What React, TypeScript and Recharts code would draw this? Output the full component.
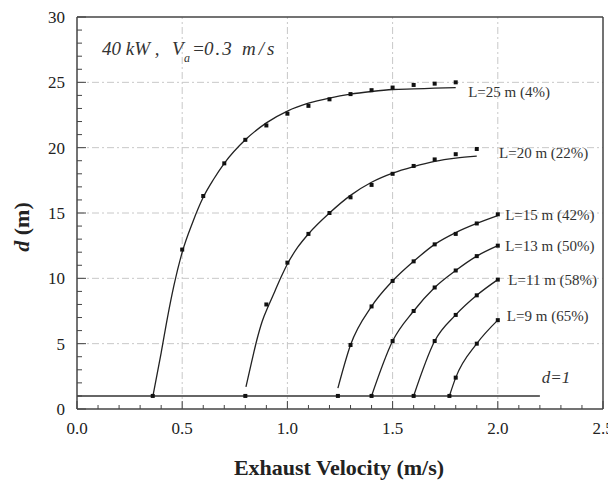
import React from 'react';
import { ComposedChart, Line, Scatter, XAxis, YAxis, ReferenceLine } from 'recharts';

// ---- axes ----
const xTicks = [0, 0.1, 0.2, 0.3, 0.4, 0.5, 0.6, 0.7, 0.8, 0.9, 1.0, 1.1, 1.2, 1.3, 1.4, 1.5, 1.6, 1.7, 1.8, 1.9, 2.0, 2.1, 2.2, 2.3, 2.4, 2.5];
const xMajor = [0, 0.5, 1.0, 1.5, 2.0, 2.5];
const yTicks = [0, 1, 2, 3, 4, 5, 6, 7, 8, 9, 10, 11, 12, 13, 14, 15, 16, 17, 18, 19, 20, 21, 22, 23, 24, 25, 26, 27, 28, 29, 30];
const yMajor = [0, 5, 10, 15, 20, 25, 30];
const xGrid = [0.5, 1.0, 1.5, 2.0];
const yGrid = [5, 10, 15, 20, 25];

// ---- measured points (x: exhaust velocity m/s, y: d m) ----
const l25Points: [number, number][] = [[0.36, 1.0], [0.5, 12.2], [0.6, 16.3], [0.7, 18.8], [0.8, 20.6], [0.9, 21.7], [1.0, 22.6], [1.1, 23.2], [1.2, 23.7], [1.3, 24.1], [1.4, 24.4], [1.5, 24.6], [1.6, 24.8], [1.7, 24.9], [1.8, 25.0]];
const l20Points: [number, number][] = [[0.8, 1.0], [0.9, 8.0], [1.0, 11.2], [1.1, 13.4], [1.2, 15.0], [1.3, 16.2], [1.4, 17.15], [1.5, 18.0], [1.6, 18.6], [1.7, 19.1], [1.8, 19.5], [1.9, 19.9]];
const l15Points: [number, number][] = [[1.24, 1.0], [1.3, 4.9], [1.4, 7.85], [1.5, 9.8], [1.6, 11.3], [1.7, 12.6], [1.8, 13.4], [1.9, 14.2], [2.0, 14.9]];
const l13Points: [number, number][] = [[1.4, 1.0], [1.5, 5.2], [1.6, 7.5], [1.7, 9.3], [1.8, 10.6], [1.9, 11.7], [2.0, 12.5]];
const l11Points: [number, number][] = [[1.6, 1.0], [1.7, 5.2], [1.8, 7.2], [1.9, 8.7], [2.0, 9.9]];
const l9Points: [number, number][] = [[1.77, 1.0], [1.8, 2.4], [1.9, 5.0], [2.0, 6.8]];

// ---- fitted curves ----
const l25Fit: [number, number][] = [[0.361, 1.0], [0.4, 4.3], [0.43, 7.0], [0.46, 9.4], [0.5, 12.0], [0.55, 14.3], [0.6, 16.2], [0.65, 17.6], [0.7, 18.8], [0.8, 20.6], [0.9, 21.9], [1.0, 22.8], [1.1, 23.4], [1.2, 23.8], [1.3, 24.1], [1.4, 24.3], [1.5, 24.45], [1.6, 24.5], [1.7, 24.55], [1.8, 24.6]];
const l20Fit: [number, number][] = [[0.803, 1.7], [0.83, 3.6], [0.855, 5.3], [0.88, 6.7], [0.91, 7.9], [0.94, 9.0], [0.97, 10.1], [1.0, 11.1], [1.05, 12.4], [1.1, 13.4], [1.2, 15.0], [1.3, 16.35], [1.4, 17.35], [1.5, 18.05], [1.6, 18.55], [1.7, 18.95], [1.8, 19.2], [1.9, 19.35]];
const l15Fit: [number, number][] = [[1.24, 1.6], [1.3, 4.9], [1.4, 7.85], [1.5, 9.8], [1.6, 11.3], [1.7, 12.6], [1.8, 13.5], [1.9, 14.2], [2.0, 14.8]];
const l13Fit: [number, number][] = [[1.4, 1.0], [1.5, 5.2], [1.6, 7.5], [1.7, 9.3], [1.8, 10.6], [1.9, 11.7], [2.0, 12.5]];
const l11Fit: [number, number][] = [[1.6, 1.0], [1.7, 5.2], [1.8, 7.2], [1.9, 8.7], [2.0, 9.9]];
const l9Fit: [number, number][] = [[1.77, 1.0], [1.8, 2.4], [1.9, 5.0], [2.0, 6.8]];
const dLine: [number, number][] = [[0, 1], [2.2, 1]];

// ---- curve labels ----
const labelTexts = ['L=25 m (4%)', 'L=20 m (22%)', 'L=15 m (42%)', 'L=13 m (50%)', 'L=11 m (58%)', 'L=9 m (65%)'];
const labelX = [1.859, 2.006, 2.035, 2.035, 2.05, 2.043];
const labelY = [24.28, 19.61, 14.85, 12.5, 9.87, 7.12];
const dLabel = { x: 2.209, y: 2.47, text: 'd=1' };
const headAnchor = { x: 0.119, y: 27.55 };

const toObj = (arr: [number, number][]) => arr.map(([x, y]) => ({ x, y }));

const FONT = '"Liberation Serif", "Times New Roman", serif';
const AXIS = '#444';
const INK = '#222';

const XTick = (props: any) => {
  const { x, y, payload } = props;
  const v = payload.value as number;
  const major = xMajor.some((m) => Math.abs(m - v) < 1e-6);
  return (
    <g>
      <line x1={x} y1={y} x2={x} y2={y - (major ? 8 : 4)} stroke={AXIS} strokeWidth={1} />
      {major && (
        <text x={x} y={y + 25} textAnchor="middle" fontFamily={FONT} fontSize={17} fill={INK}>
          {v.toFixed(1)}
        </text>
      )}
    </g>
  );
};

const YTick = (props: any) => {
  const { x, y, payload } = props;
  const v = payload.value as number;
  const major = yMajor.includes(v);
  return (
    <g>
      <line x1={x} y1={y} x2={x + (major ? 9 : 5)} y2={y} stroke={AXIS} strokeWidth={1} />
      {major && (
        <text x={x - 12} y={y + 6} textAnchor="end" fontFamily={FONT} fontSize={17} fill={INK}>
          {v}
        </text>
      )}
    </g>
  );
};

const Dot = (props: any) => {
  const { cx, cy } = props;
  return <rect x={cx - 2} y={cy - 2} width={4} height={4} fill="#111" />;
};

const labelData = labelTexts.map((t, i) => ({ x: labelX[i], y: labelY[i], text: t }));

const CurveLabel = (props: any) => {
  const { cx, cy, payload } = props;
  return (
    <text x={cx} y={cy + 5} fontFamily={FONT} fontSize={15} fill="#333">
      {payload.text}
    </text>
  );
};

const DLabel = (props: any) => {
  const { cx, cy } = props;
  return (
    <text x={cx} y={cy + 6} fontFamily={FONT} fontStyle="italic" fontSize={17} fill="#333">
      {dLabel.text}
    </text>
  );
};

const HeadLabel = (props: any) => {
  const { cx, cy } = props;
  const common = { fontFamily: FONT, fontStyle: 'italic', fill: '#333' } as any;
  return (
    <g>
      <text x={cx} y={cy + 6} fontSize={19} {...common}>40 kW ,</text>
      <text x={cx + 70} y={cy + 6} fontSize={19} {...common}>V</text>
      <text x={cx + 82} y={cy + 13} fontSize={12} {...common}>a</text>
      <text x={cx + 90} y={cy + 6} fontSize={19} {...common}>=</text>
      <text x={cx + 102} y={cy + 6} fontSize={19} letterSpacing={2} {...common}>0.3</text>
      <text x={cx + 140} y={cy + 6} fontSize={19} letterSpacing={3} {...common}>m/s</text>
    </g>
  );
};

const fits = [l25Fit, l20Fit, l15Fit, l13Fit, l11Fit, l9Fit];
const pts = [l25Points, l20Points, l15Points, l13Points, l11Points, l9Points];

export default function App() {
  return (
    <div style={{ position: 'relative', width: 608, height: 475 }}>
      <ComposedChart width={608} height={475} margin={{ top: 9, right: 13, left: 0, bottom: 0 }}>
        <XAxis
          dataKey="x"
          type="number"
          domain={[0, 2.5]}
          ticks={xTicks}
          interval={0}
          tickSize={0}
          tickMargin={0}
          tick={<XTick />}
          tickLine={false}
          height={74}
          axisLine={{ stroke: AXIS, strokeWidth: 1.5 }}
          allowDataOverflow
        />
        <YAxis
          dataKey="y"
          type="number"
          domain={[0, 30]}
          ticks={yTicks}
          interval={0}
          tickSize={0}
          tickMargin={0}
          tick={<YTick />}
          tickLine={false}
          width={69}
          axisLine={{ stroke: AXIS, strokeWidth: 1.5 }}
          allowDataOverflow
        />
        {xGrid.map((v) => (
          <ReferenceLine key={'gx' + v} x={v} stroke="#c8c8c8" strokeDasharray="7 3 2 3" />
        ))}
        {yGrid.map((v) => (
          <ReferenceLine key={'gy' + v} y={v} stroke="#c8c8c8" strokeDasharray="7 3 2 3" />
        ))}
        <ReferenceLine x={2.5} stroke={AXIS} strokeWidth={1.5} />
        <ReferenceLine y={30} stroke={AXIS} strokeWidth={1.5} />
        <Line data={toObj(dLine)} dataKey="y" type="linear" stroke="#333" strokeWidth={1.6} dot={false} isAnimationActive={false} />
        {fits.map((f, i) => (
          <Line key={'f' + i} data={toObj(f)} dataKey="y" type="monotone" stroke={INK} strokeWidth={1.3} dot={false} isAnimationActive={false} />
        ))}
        {pts.map((p, i) => (
          <Scatter key={'p' + i} data={toObj(p)} dataKey="y" shape={<Dot />} isAnimationActive={false} />
        ))}
        <Scatter data={labelData} dataKey="y" shape={<CurveLabel />} isAnimationActive={false} />
        <Scatter data={[dLabel]} dataKey="y" shape={<DLabel />} isAnimationActive={false} />
        <Scatter data={[headAnchor]} dataKey="y" shape={<HeadLabel />} isAnimationActive={false} />
      </ComposedChart>
      <svg width={608} height={475} style={{ position: 'absolute', left: 0, top: 0, pointerEvents: 'none' }}>
        <text x={331} y={467} textAnchor="middle" fontFamily={FONT} fontWeight="bold" fontSize={22} fill={INK}>
          Exhaust Velocity (m/s)
        </text>
        <text transform="translate(21,219) rotate(-90)" textAnchor="middle" fontFamily={FONT} fontWeight="bold" fontSize={22} fill={INK}>
          <tspan fontStyle="italic">d</tspan>
          <tspan> (m)</tspan>
        </text>
      </svg>
    </div>
  );
}
